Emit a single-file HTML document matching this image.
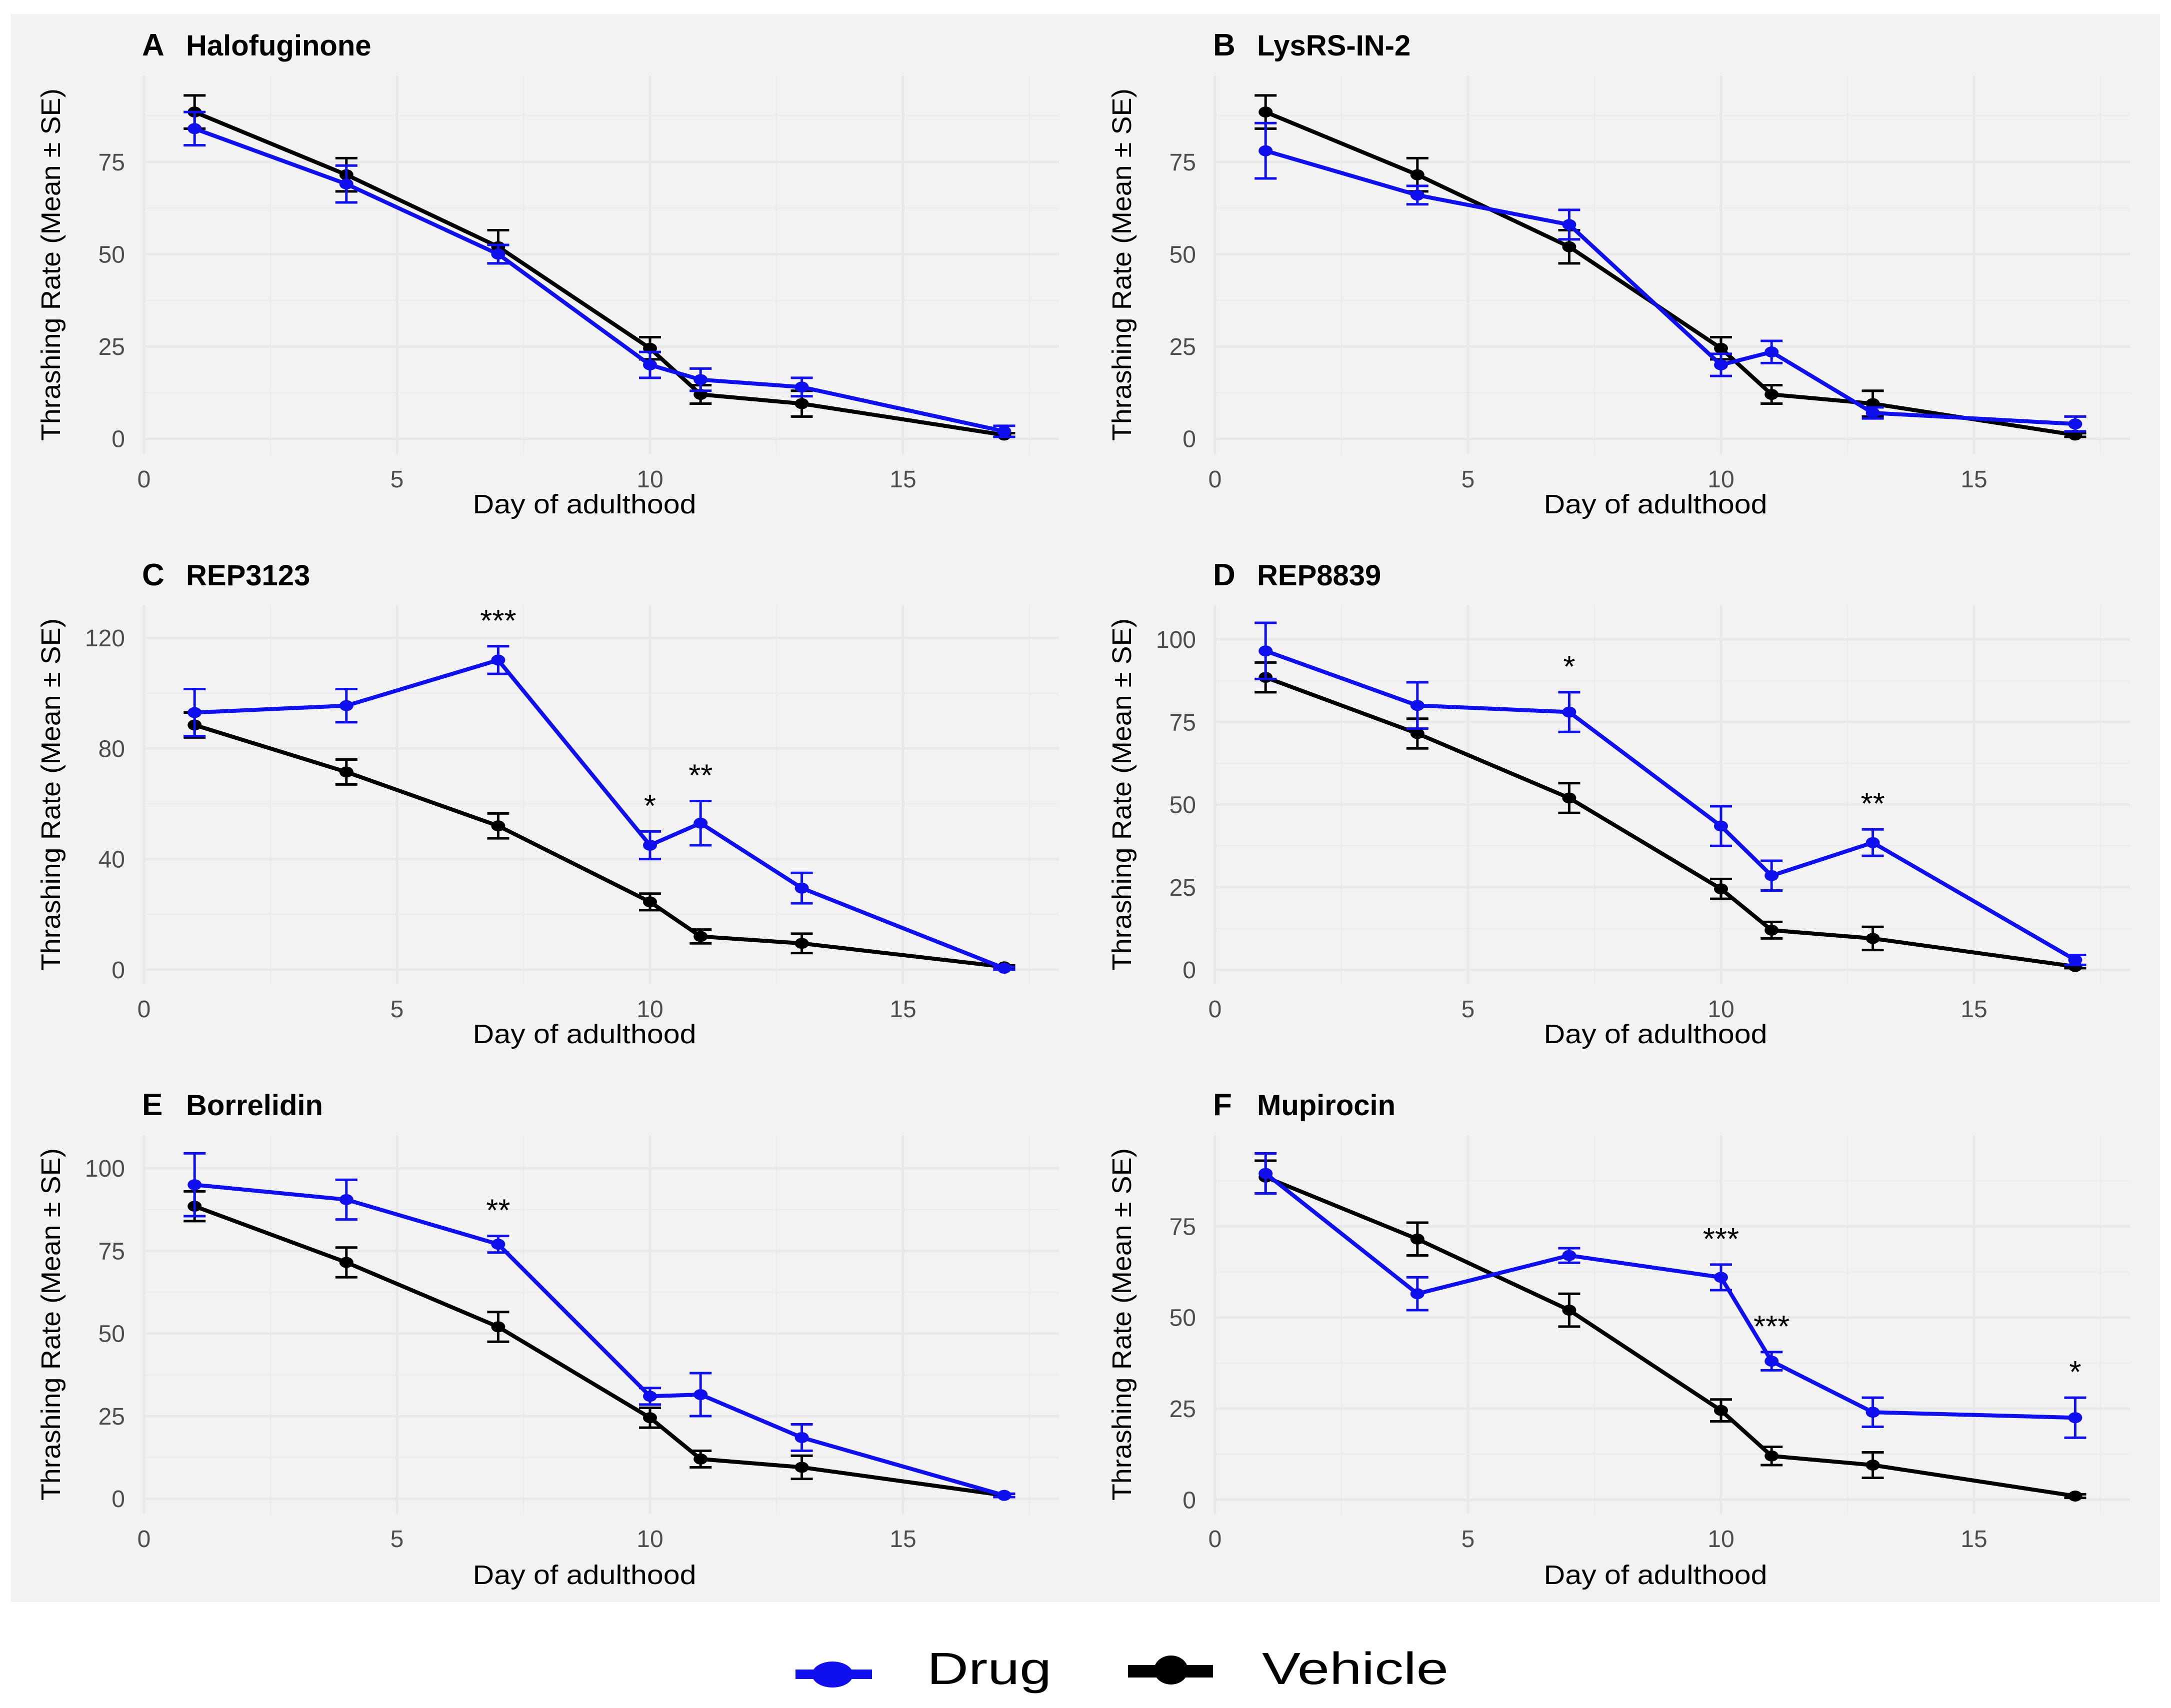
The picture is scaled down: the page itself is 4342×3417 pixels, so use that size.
<!DOCTYPE html>
<html><head><meta charset="utf-8"><style>
html,body{margin:0;padding:0;background:#fff;}
svg{display:block;font-family:"Liberation Sans",sans-serif;}
</style></head><body>
<svg id="chart" width="4342" height="3417" viewBox="0 0 4342 3417" xmlns="http://www.w3.org/2000/svg"></svg>
<script>
const days = [1,4,7,10,11,13,17];
const vehicleMean = [88.5,71.5,52,24.5,12,9.5,1];
const vehicleErr = [4.5,4.5,4.5,3,2.5,3.5,0.5];
const panelLetters = ["A","B","C","D","E","F"];
const panelTitles = ["Halofuginone","LysRS-IN-2","REP3123","REP8839","Borrelidin","Mupirocin"];
const drugA = [84,69,50,20,16,14,2];
const drugAErr = [4.5,5,2.5,3.5,3,2.5,1.5];
const drugB = [78,66,58,20,23.5,7,4];
const drugBErr = [7.5,2.5,4,3,3,1.5,2];
const drugC = [93,95.5,112,45,53,29.5,0.5];
const drugCErr = [8.5,6,5,5,8,5.5,0.5];
const drugD = [96.5,80,78,43.5,28.5,38.5,3];
const drugDErr = [8.5,7,6,6,4.5,4,1.5];
const drugE = [95,90.5,77,31,31.5,18.5,1];
const drugEErr = [9.5,6,2.5,2.5,6.5,4,0.5];
const drugF = [89.5,56.5,67,61,38,24,22.5];
const drugFErr = [5.5,4.5,2,3.5,2.5,4,5.5];
const starsC = [[7,"***"],[10,"*"],[11,"**"]];
const starsD = [[7,"*"],[13,"**"]];
const starsE = [[7,"**"]];
const starsF = [[10,"***"],[11,"***"],[17,"*"]];
const yTicksAB = [0,25,50,75];
const yTicksC = [0,40,80,120];
const yTicksDE = [0,25,50,75,100];
const yTicksF = [0,25,50,75];
const xTicks = [0,5,10,15];

const drugs=[drugA,drugB,drugC,drugD,drugE,drugF];
const drugErrs=[drugAErr,drugBErr,drugCErr,drugDErr,drugEErr,drugFErr];
const stars=[[],[],starsC,starsD,starsE,starsF];
const yTicks=[yTicksAB,yTicksAB,yTicksC,yTicksDE,yTicksDE,yTicksF];
const yDom=[[-4.1,98.4],[-4.1,98.4],[-5.1,131.8],[-4.2,110.3],[-4.5,110],[-3.8,100]];

const NS="http://www.w3.org/2000/svg";
const svg=document.getElementById('chart');
function mk(tag,attrs,parent){const e=document.createElementNS(NS,tag);for(const k in attrs)e.setAttribute(k,attrs[k]);(parent||svg).appendChild(e);return e;}

const BLUE="#1010ee";
const bgAll=mk('rect',{x:22,y:28,width:4298,height:3177,fill:'#f2f2f2'});


for(let p=0;p<6;p++){
  const col=p%2,row=Math.floor(p/2);
  const ox=col*2142, oy=row*1060;
  const titleShift=row===2?22:0;
  const g=mk('g',{});
  
  
  const L=288+ox,R=2118+ox,T=151+oy,B=908+oy;
  const xs=v=>L+v*101.2;
  const [y0,y1]=yDom[p];
  const ys=v=>B-(v-y0)/(y1-y0)*(B-T);
  for(let i=0;i<xTicks.length;i++){const v=xTicks[i]+2.5;if(xs(v)<R)mk('line',{x1:xs(v),x2:xs(v),y1:T,y2:B,stroke:'#ececec','stroke-width':3},g);}
  const yt=yTicks[p];const st=yt[1]-yt[0];
  for(let i=0;i<yt.length;i++){const v=yt[i]+st/2;if(ys(v)>T)mk('line',{x1:L,x2:R,y1:ys(v),y2:ys(v),stroke:'#ececec','stroke-width':3},g);}
  for(const v of xTicks){mk('line',{x1:xs(v),x2:xs(v),y1:T,y2:B,stroke:'#e8e8e8','stroke-width':5},g);
    const t=mk('text',{x:xs(v),y:975+oy,'text-anchor':'middle','font-size':48,fill:'#4d4d4d'},g);t.textContent=v;
    }
  for(const v of yt){mk('line',{x1:L,x2:R,y1:ys(v),y2:ys(v),stroke:'#e8e8e8','stroke-width':5},g);
    const t=mk('text',{x:250+ox,y:ys(v)+17,'text-anchor':'end','font-size':48,fill:'#4d4d4d'},g);t.textContent=v;
    }
  const tl=mk('text',{x:284+ox,y:111+oy,'font-size':62,'font-weight':'bold',fill:'#000'},g);tl.textContent=panelLetters[p];
  
  const tt=mk('text',{x:372+ox,y:111+oy,'font-size':58,'font-weight':'bold',fill:'#000'},g);tt.textContent=panelTitles[p];
  
  const xt=mk('text',{x:1169+ox,y:1027+oy+titleShift,'text-anchor':'middle','font-size':54,fill:'#000',textLength:447,lengthAdjust:'spacingAndGlyphs'},g);xt.textContent='Day of adulthood';
  
  const cy=(T+B)/2;
  const yti=mk('text',{x:0,y:0,'text-anchor':'middle','font-size':54,fill:'#000',textLength:705,lengthAdjust:'spacingAndGlyphs',transform:`translate(${120+ox},${cy}) rotate(-90)`},g);yti.textContent='Thrashing Rate (Mean ± SE)';
  
  const series=[[vehicleMean,vehicleErr,'#000','vehicle'],[drugs[p],drugErrs[p],BLUE,'drug']];
  for(const [m,e,c,nm] of series){
    const sg=mk('g',{},g);
    
    mk('polyline',{points:days.map((d,i)=>xs(d)+','+ys(m[i])).join(' '),fill:'none',stroke:c,'stroke-width':8,'stroke-linejoin':'round'},sg);
    days.forEach((d,i)=>{
      const x=xs(d),a=ys(m[i]+e[i]),b=ys(m[i]-e[i]);
      const eb=mk('path',{d:`M${x-22},${a}H${x+22}M${x},${a}V${b}M${x-22},${b}H${x+22}`,stroke:c,'stroke-width':5,fill:'none'},sg);
      
      const pt=mk('ellipse',{cx:x,cy:ys(m[i]),rx:14,ry:11,fill:c},sg);
      
    });
  }
  for(const [d,s] of stars[p]){
    const i=days.indexOf(d);
    const st2=mk('text',{x:xs(d),y:ys(drugs[p][i]+drugErrs[p][i])-30,'text-anchor':'middle','font-size':62,fill:'#000'},g);st2.textContent=s;
    
  }
}
const lg=mk('g',{});

const e1=mk('g',{},lg);
mk('rect',{x:1591,y:3340,width:153,height:19,fill:BLUE},e1);
mk('ellipse',{cx:1665,cy:3350,rx:41,ry:26,fill:BLUE},e1);
const t1=mk('text',{x:1854,y:3369,'font-size':90,fill:'#000',textLength:249,lengthAdjust:'spacingAndGlyphs'},e1);t1.textContent='Drug';
const e2=mk('g',{},lg);
mk('rect',{x:2256,y:3331,width:170,height:25,fill:'#000'},e2);
mk('ellipse',{cx:2342,cy:3341,rx:34,ry:29,fill:'#000'},e2);
const t2=mk('text',{x:2524,y:3369,'font-size':90,fill:'#000',textLength:373,lengthAdjust:'spacingAndGlyphs'},e2);t2.textContent='Vehicle';
</script>
</body></html>
